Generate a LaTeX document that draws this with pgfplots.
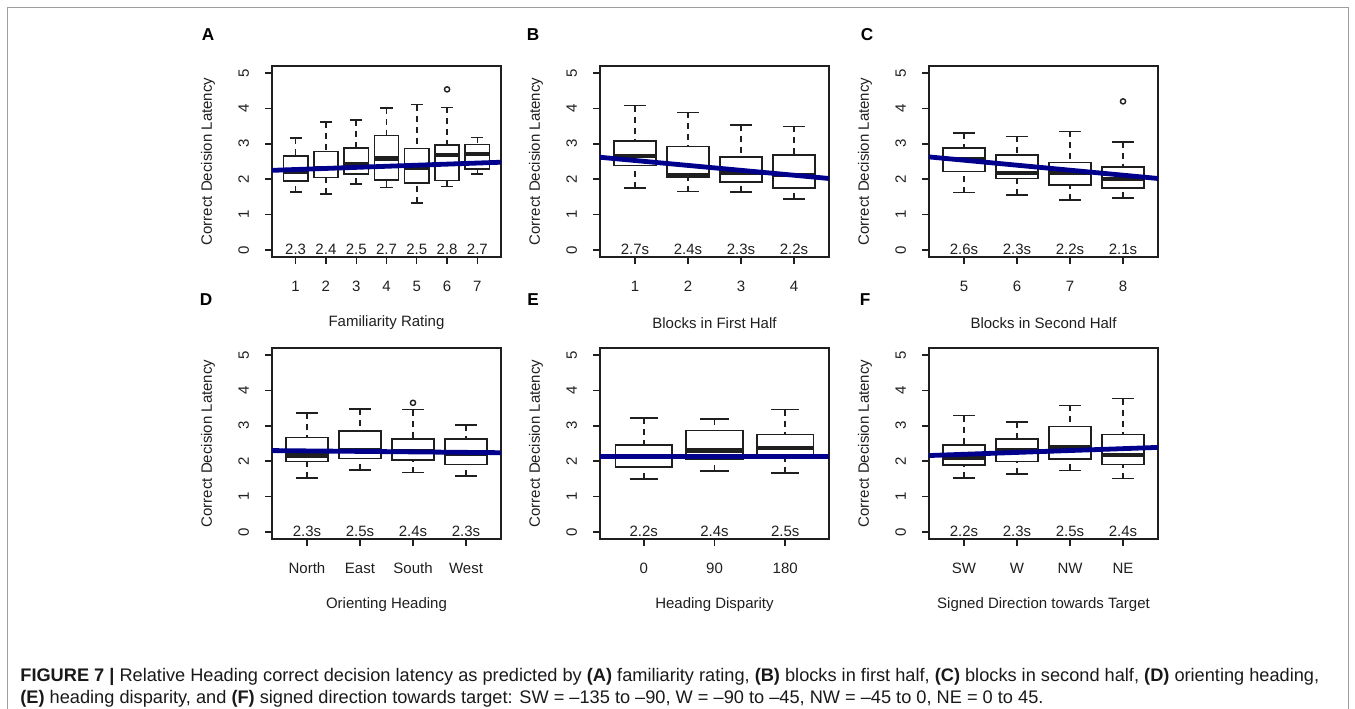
\documentclass[border=0pt]{standalone}
\usepackage{fontspec}
\setmainfont{Liberation Sans}
\usepackage{pgfplots}
\pgfplotsset{compat=1.18}
\usepgfplotslibrary{statistics}
\definecolor{fg}{gray}{0.12}
\definecolor{regblue}{RGB}{0,0,140}

\pgfplotsset{
  rbox/.style={
    scale only axis, width=114.5pt, height=95.5pt,
    anchor=north west,
    ymin=-0.2, ymax=5.2, ytick={0,1,2,3,4,5},
    /pgf/number format/assume math mode=true,
    axis line style={line width=0.7pt, fg},
    every tick/.style={line width=0.7pt, fg},
    tick align=outside, major tick length=3.5pt,
    xtick pos=left, ytick pos=left,
    tick label style={font=\fontsize{7.5}{9}\selectfont, text=fg},
    yticklabel style={rotate=90, anchor=south, yshift=4.5pt},
    xticklabel style={yshift=-5pt},
    ylabel={Correct Decision Latency},
    label style={font=\fontsize{7.5}{9}\selectfont, text=fg},
    ylabel style={at={(axis description cs:-0.2795,0.5)}, anchor=center},
    xlabel style={at={(axis description cs:0.5,-0.3455)}, anchor=center},
    boxplot/draw direction=y,
    boxplot/box extend=0.8,
    boxplot/whisker extend=0.4,
    boxplot/every median/.style={line width=2.2pt},
    boxplot/draw/lower whisker/.code={%
      \draw[fg, line width=0.8pt, dash pattern=on 3pt off 2.5pt]
        (boxplot cs:\pgfplotsboxplotvalue{lower whisker})
        -- (boxplot cs:\pgfplotsboxplotvalue{lower quartile});
      \draw[fg, line width=0.8pt, solid]
        (boxplot whisker cs:\pgfplotsboxplotvalue{lower whisker},0)
        -- (boxplot whisker cs:\pgfplotsboxplotvalue{lower whisker},1);
    },
    boxplot/draw/upper whisker/.code={%
      \draw[fg, line width=0.8pt, dash pattern=on 3pt off 2.5pt]
        (boxplot cs:\pgfplotsboxplotvalue{upper whisker})
        -- (boxplot cs:\pgfplotsboxplotvalue{upper quartile});
      \draw[fg, line width=0.8pt, solid]
        (boxplot whisker cs:\pgfplotsboxplotvalue{upper whisker},0)
        -- (boxplot whisker cs:\pgfplotsboxplotvalue{upper whisker},1);
    },
  },
  boxstyle/.style={fg, line width=0.8pt, solid, fill=none},
  regline/.style={regblue, line width=2.4pt},
  outl/.style={only marks, mark=o, mark size=1.3pt, fg, line width=0.7pt},
}
\newcommand{\rbox}[6]{\addplot[boxstyle, boxplot prepared={draw position=#1, lower whisker=#2, lower quartile=#3, median=#4, upper quartile=#5, upper whisker=#6}] coordinates {};}
\tikzset{anno/.style={font=\fontsize{7.5}{9}\selectfont, text=fg, anchor=center, inner sep=0pt},
         plabel/.style={font=\bfseries\fontsize{8.6}{10}\selectfont, text=black, anchor=center, inner sep=0pt}}

\begin{document}
\begin{tikzpicture}
\useasboundingbox (0,0) rectangle (677.5pt,-354pt);
% outer frame
\draw[gray!75, line width=0.5pt] (3.5pt,-360pt) -- (3.5pt,-3.5pt) -- (674pt,-3.5pt) -- (674pt,-360pt);

% ---------- A ----------
\begin{axis}[rbox, at={(136pt,-33pt)}, xmin=0.22, xmax=7.78,
  xtick={1,2,3,4,5,6,7}, xticklabels={1,2,3,4,5,6,7}, xlabel={Familiarity Rating}]
\rbox{1}{1.63}{1.95}{2.22}{2.66}{3.16}
\rbox{2}{1.58}{2.05}{2.32}{2.78}{3.61}
\rbox{3}{1.87}{2.14}{2.43}{2.89}{3.68}
\rbox{4}{1.77}{1.98}{2.59}{3.24}{4.02}
\rbox{5}{1.32}{1.90}{2.31}{2.87}{4.11}
\rbox{6}{1.79}{1.96}{2.69}{2.97}{4.03}
\rbox{7}{2.15}{2.28}{2.71}{2.98}{3.18}
\addplot[outl] coordinates {(6,4.54)};
\addplot[regline] coordinates {(0.22,2.25) (7.78,2.48)};
\node[anno] at (axis cs:1,0.03) {2.3};
\node[anno] at (axis cs:2,0.03) {2.4};
\node[anno] at (axis cs:3,0.03) {2.5};
\node[anno] at (axis cs:4,0.03) {2.7};
\node[anno] at (axis cs:5,0.03) {2.5};
\node[anno] at (axis cs:6,0.03) {2.8};
\node[anno] at (axis cs:7,0.03) {2.7};
\end{axis}

% ---------- B ----------
\begin{axis}[rbox, at={(300pt,-33pt)}, xmin=0.34, xmax=4.66,
  xtick={1,2,3,4}, xticklabels={1,2,3,4}, xlabel={Blocks in First Half}]
\rbox{1}{1.75}{2.39}{2.66}{3.08}{4.08}
\rbox{2}{1.65}{2.05}{2.10}{2.92}{3.89}
\rbox{3}{1.63}{1.92}{2.17}{2.62}{3.54}
\rbox{4}{1.44}{1.75}{2.12}{2.69}{3.49}
\addplot[regline] coordinates {(0.34,2.62) (4.66,2.02)};
\node[anno] at (axis cs:1,0.03) {2.7s};
\node[anno] at (axis cs:2,0.03) {2.4s};
\node[anno] at (axis cs:3,0.03) {2.3s};
\node[anno] at (axis cs:4,0.03) {2.2s};
\end{axis}

% ---------- C ----------
\begin{axis}[rbox, at={(464.5pt,-33pt)}, xmin=0.34, xmax=4.66,
  xtick={1,2,3,4}, xticklabels={5,6,7,8}, xlabel={Blocks in Second Half}]
\rbox{1}{1.62}{2.22}{2.57}{2.88}{3.30}
\rbox{2}{1.56}{2.02}{2.17}{2.69}{3.21}
\rbox{3}{1.42}{1.84}{2.19}{2.47}{3.35}
\rbox{4}{1.47}{1.75}{2.00}{2.35}{3.06}
\addplot[outl] coordinates {(4,4.2)};
\addplot[regline] coordinates {(0.34,2.63) (4.66,2.02)};
\node[anno] at (axis cs:1,0.03) {2.6s};
\node[anno] at (axis cs:2,0.03) {2.3s};
\node[anno] at (axis cs:3,0.03) {2.2s};
\node[anno] at (axis cs:4,0.03) {2.1s};
\end{axis}

% ---------- D ----------
\begin{axis}[rbox, at={(136pt,-174pt)}, xmin=0.34, xmax=4.66,
  xtick={1,2,3,4}, xticklabels={North,East,South,West}, xlabel={Orienting Heading}]
\rbox{1}{1.52}{1.99}{2.16}{2.67}{3.36}
\rbox{2}{1.75}{2.08}{2.30}{2.86}{3.48}
\rbox{3}{1.68}{2.04}{2.27}{2.63}{3.46}
\rbox{4}{1.58}{1.91}{2.22}{2.63}{3.03}
\addplot[outl] coordinates {(3,3.65)};
\addplot[regline] coordinates {(0.34,2.30) (4.66,2.24)};
\node[anno] at (axis cs:1,0.03) {2.3s};
\node[anno] at (axis cs:2,0.03) {2.5s};
\node[anno] at (axis cs:3,0.03) {2.4s};
\node[anno] at (axis cs:4,0.03) {2.3s};
\end{axis}

% ---------- E ----------
\begin{axis}[rbox, at={(300pt,-174pt)}, xmin=0.38, xmax=3.62,
  xtick={1,2,3}, xticklabels={0,90,180}, xlabel={Heading Disparity}]
\rbox{1}{1.50}{1.84}{2.13}{2.46}{3.22}
\rbox{2}{1.72}{2.06}{2.30}{2.87}{3.19}
\rbox{3}{1.66}{2.08}{2.37}{2.75}{3.46}
\addplot[regline] coordinates {(0.38,2.13) (3.62,2.13)};
\node[anno] at (axis cs:1,0.03) {2.2s};
\node[anno] at (axis cs:2,0.03) {2.4s};
\node[anno] at (axis cs:3,0.03) {2.5s};
\end{axis}

% ---------- F ----------
\begin{axis}[rbox, at={(464.5pt,-174pt)}, xmin=0.34, xmax=4.66,
  xtick={1,2,3,4}, xticklabels={SW,W,NW,NE}, xlabel={Signed Direction towards Target}]
\rbox{1}{1.52}{1.89}{2.11}{2.46}{3.29}
\rbox{2}{1.64}{1.99}{2.32}{2.63}{3.10}
\rbox{3}{1.74}{2.06}{2.39}{2.98}{3.58}
\rbox{4}{1.51}{1.91}{2.18}{2.75}{3.77}
\addplot[regline] coordinates {(0.34,2.16) (4.66,2.39)};
\node[anno] at (axis cs:1,0.03) {2.2s};
\node[anno] at (axis cs:2,0.03) {2.3s};
\node[anno] at (axis cs:3,0.03) {2.5s};
\node[anno] at (axis cs:4,0.03) {2.4s};
\end{axis}

% panel letters
\node[plabel] at (104pt,-17.5pt) {A};
\node[plabel] at (266.5pt,-17.5pt) {B};
\node[plabel] at (433.5pt,-17.5pt) {C};
\node[plabel] at (103pt,-150pt) {D};
\node[plabel] at (266.5pt,-150pt) {E};
\node[plabel] at (432.5pt,-150pt) {F};

% caption
\node[anchor=base west, inner sep=0pt, font=\fontsize{9.1}{10}\selectfont, text=black!90] at (10pt,-340.8pt)
  {\textbf{FIGURE 7 |} Relative Heading correct decision latency as predicted by \textbf{(A)} familiarity rating, \textbf{(B)} blocks in first half, \textbf{(C)} blocks in second half, \textbf{(D)} orienting heading,};
\node[anchor=base west, inner sep=0pt, font=\fontsize{9.1}{10}\selectfont, text=black!90] at (10pt,-351.8pt)
  {\textbf{(E)} heading disparity, and \textbf{(F)} signed direction towards target: SW = –135 to –90, W = –90 to –45, NW = –45 to 0, NE = 0 to 45.};
\end{tikzpicture}
\end{document}
